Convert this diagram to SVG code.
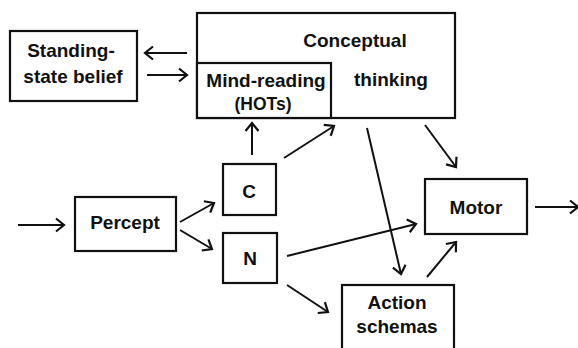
<svg xmlns="http://www.w3.org/2000/svg" width="578" height="348" viewBox="0 0 578 348">
<style>
.box{fill:#fff;stroke:#111;stroke-width:2.2}
.t{font-family:"Liberation Sans",Arial,sans-serif;font-weight:bold;font-size:19px;fill:#111;text-anchor:middle}
.s{font-size:17.5px}
.c{fill:none;stroke:#111;stroke-width:2;marker-end:url(#ah)}
</style>
<defs>
<marker id="ah" markerUnits="userSpaceOnUse" markerWidth="14" markerHeight="14" refX="11" refY="7" orient="auto" overflow="visible">
<path d="M3,0.5 L11,7 L3,13.5" fill="none" stroke="#111" stroke-width="2.2"/>
</marker>
</defs>
<rect width="578" height="348" fill="#fff"/>
<g id="belief"><rect class="box" x="10" y="31" width="127" height="70"/><text class="t" x="71" y="57">Standing-</text><text class="t" x="73" y="83">state belief</text></g>
<g id="conceptual"><rect class="box" x="197" y="13" width="258" height="105"/><text class="t" x="355" y="47">Conceptual</text><text class="t" x="391" y="86">thinking</text></g>
<g id="mindreading"><rect class="box" x="197" y="63" width="134" height="55"/><text class="t" x="266" y="87">Mind-reading</text><text class="t s" x="263" y="110">(HOTs)</text></g>
<g id="percept"><rect class="box" x="75" y="197" width="101" height="54"/><text class="t" x="125" y="229">Percept</text></g>
<g id="c"><rect class="box" x="223" y="164" width="53" height="51"/><text class="t" x="249" y="198">C</text></g>
<g id="n"><rect class="box" x="223" y="233" width="54" height="50"/><text class="t" x="250" y="265">N</text></g>
<g id="motor"><rect class="box" x="425" y="179" width="102" height="55"/><text class="t" x="476" y="214">Motor</text></g>
<g id="action"><rect class="box" x="342" y="285" width="112" height="70"/><text class="t" x="397" y="309">Action</text><text class="t" x="397" y="333">schemas</text></g>
<g id="connectors">
<path class="c" d="M187,53 L145,53"/>
<path class="c" d="M147,75 L187,75"/>
<path class="c" d="M252,155 L252,123"/>
<path class="c" d="M284,158 L334,126"/>
<path class="c" d="M367,128 L401,274"/>
<path class="c" d="M425,125 L456,167"/>
<path class="c" d="M18,225 L64,225"/>
<path class="c" d="M180,222 L214,203"/>
<path class="c" d="M180,230 L212,249"/>
<path class="c" d="M287,256 L416,224"/>
<path class="c" d="M287,285 L328,312"/>
<path class="c" d="M427,277 L456,242"/>
<path class="c" d="M535,207 L578,207"/>
</g>
</svg>
